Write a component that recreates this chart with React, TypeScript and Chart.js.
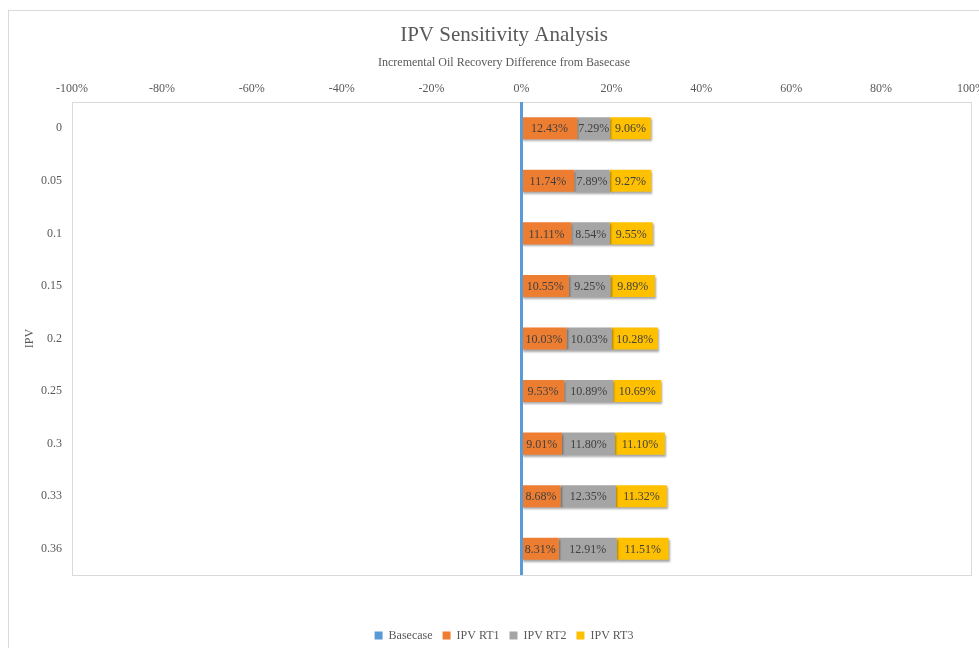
import { useEffect, useRef } from 'react';
import { Chart, registerables } from 'chart.js';

Chart.register(...registerables);

const categories = ['0', '0.05', '0.1', '0.15', '0.2', '0.25', '0.3', '0.33', '0.36'];
const basecase = [0, 0, 0, 0, 0, 0, 0, 0, 0];
const ipvRT1 = [12.43, 11.74, 11.11, 10.55, 10.03, 9.53, 9.01, 8.68, 8.31];
const ipvRT2 = [7.29, 7.89, 8.54, 9.25, 10.03, 10.89, 11.8, 12.35, 12.91];
const ipvRT3 = [9.06, 9.27, 9.55, 9.89, 10.28, 10.69, 11.1, 11.32, 11.51];
const xMin = -100;
const xMax = 100;
const xStep = 20;

const FONT = "'Liberation Serif', 'Times New Roman', serif";
const TEXT = '#595959';

export default function App() {
  const ref = useRef<HTMLCanvasElement>(null);

  useEffect(() => {
    const canvas = ref.current!;
    const framePlugin = {
      id: 'frame',
      beforeDraw(chart: any) {
        const { ctx, chartArea: a, width, height } = chart;
        ctx.save();
        ctx.fillStyle = '#ffffff';
        ctx.fillRect(0, 0, width, height);
        ctx.strokeStyle = '#D9D9D9';
        ctx.lineWidth = 1;
        ctx.strokeRect(0.5, 0.5, width - 1, height - 1);
        ctx.strokeRect(
          Math.round(a.left) + 0.5,
          Math.round(a.top) + 0.5,
          Math.round(a.right - a.left),
          Math.round(a.bottom - a.top)
        );
        ctx.restore();
      },
      beforeDatasetsDraw(chart: any) {
        const ctx = chart.ctx;
        ctx.save();
        ctx.shadowColor = 'rgba(0,0,0,0.35)';
        ctx.shadowOffsetX = 1;
        ctx.shadowOffsetY = 2;
        ctx.shadowBlur = 2;
      },
      afterDatasetsDraw(chart: any) {
        const ctx = chart.ctx;
        ctx.restore();
        const a = chart.chartArea;
        const x0 = chart.scales.x.getPixelForValue(0);
        ctx.save();
        ctx.strokeStyle = '#5B9BD5';
        ctx.lineWidth = 3;
        ctx.beginPath();
        ctx.moveTo(x0, a.top);
        ctx.lineTo(x0, a.bottom);
        ctx.stroke();
        ctx.font = `12px ${FONT}`;
        ctx.fillStyle = '#404040';
        ctx.textAlign = 'center';
        ctx.textBaseline = 'middle';
        for (let d = 1; d < chart.data.datasets.length; d++) {
          const meta = chart.getDatasetMeta(d);
          meta.data.forEach((el: any, i: number) => {
            const v = chart.data.datasets[d].data[i] as number;
            ctx.fillText(v.toFixed(2) + '%', (el.x + el.base) / 2, el.y + 1);
          });
        }
        ctx.restore();
      },
    };

    const chart = new Chart(canvas, {
      type: 'bar',
      data: {
        labels: categories,
        datasets: [
          { label: 'Basecase', data: basecase, backgroundColor: '#5B9BD5' },
          { label: 'IPV RT1', data: ipvRT1, backgroundColor: '#ED7D31' },
          { label: 'IPV RT2', data: ipvRT2, backgroundColor: '#A5A5A5' },
          { label: 'IPV RT3', data: ipvRT3, backgroundColor: '#FFC000' },
        ],
      },
      options: {
        indexAxis: 'y',
        responsive: false,
        animation: false,
        events: [],
        layout: { padding: { top: 8, left: 0, right: 0, bottom: 18.6 } },
        datasets: { bar: { categoryPercentage: 1, barPercentage: 0.42 } },
        scales: {
          x: {
            type: 'linear',
            position: 'top',
            stacked: true,
            min: xMin,
            max: xMax,
            ticks: {
              stepSize: xStep,
              callback: (v: any) => v + '%',
              color: TEXT,
              font: { family: FONT, size: 12 },
              padding: 5.5,
            },
            grid: { display: false, drawTicks: false },
            border: { display: false },
          },
          y: {
            type: 'category',
            stacked: true,
            ticks: { color: TEXT, font: { family: FONT, size: 12 }, padding: 10 },
            grid: { display: false, drawTicks: false },
            border: { display: false },
            title: {
              display: true,
              text: 'IPV',
              color: TEXT,
              font: { family: FONT, size: 12 },
              padding: { top: 15, bottom: 0 },
            },
            afterFit: (s: any) => {
              s.width = 64;
            },
          },
          yRight: {
            type: 'linear',
            axis: 'y',
            position: 'right',
            display: true,
            ticks: { display: false },
            grid: { display: false, drawTicks: false },
            border: { display: false },
            afterFit: (s: any) => {
              s.width = 29;
            },
          },
        },
        plugins: {
          title: {
            display: true,
            text: 'IPV Sensitivity Analysis',
            color: TEXT,
            font: { family: FONT, size: 21, weight: 'normal' },
            padding: { top: 5, bottom: 4 },
          },
          subtitle: {
            display: true,
            text: 'Incremental Oil Recovery Difference from Basecase',
            color: TEXT,
            font: { family: FONT, size: 12 },
            padding: { top: 3.6, bottom: 6.4 },
          },
          legend: {
            position: 'bottom',
            title: { display: true, text: '', font: { size: 12 }, padding: { top: 30, bottom: 0 } },
            labels: {
              boxWidth: 8,
              boxHeight: 8,
              padding: 10,
              color: TEXT,
              font: { family: FONT, size: 12 },
            },
          },
          tooltip: { enabled: false },
        },
      } as any,
      plugins: [framePlugin],
    });
    return () => chart.destroy();
  }, []);

  return (
    <div
      style={{
        position: 'fixed',
        left: 0,
        top: 0,
        width: 979,
        height: 648,
        overflow: 'hidden',
        background: '#fff',
      }}
    >
      <canvas
        ref={ref}
        width={992}
        height={660}
        style={{ position: 'absolute', left: 8, top: 10, width: 992, height: 660 }}
      />
    </div>
  );
}
